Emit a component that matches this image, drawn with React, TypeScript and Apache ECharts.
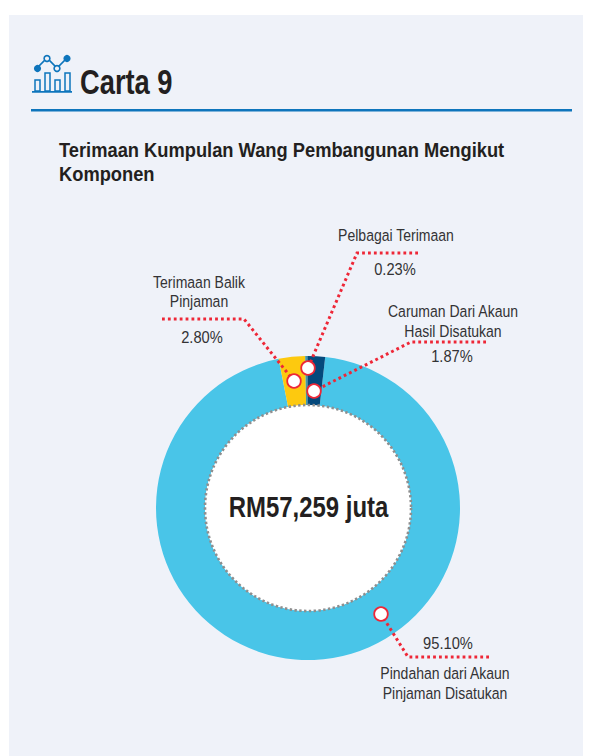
import React, { useEffect, useRef } from "react";
import * as echarts from "echarts";

const sliceNames = [
  "Pindahan dari Akaun Pinjaman Disatukan",
  "Terimaan Balik Pinjaman",
  "Pelbagai Terimaan",
  "Caruman Dari Akaun Hasil Disatukan",
];
const sliceValues = [95.1, 2.8, 0.23, 1.87];
const sliceColors = ["#49c5e8", "#fdc90f", "#3f9aa8", "#04497c"];
const centreText = "RM57,259 juta";
const chartTitle = "Carta 9";
const subTitle = ["Terimaan Kumpulan Wang Pembangunan Mengikut", "Komponen"];

const FONT = "'Liberation Sans', sans-serif";
const RED = "#ee2737";
const TXT = "#333335";
const PANEL = "#eff2f9";
const CX = 308;
const CY = 508;

function leader(points: number[][]) {
  return {
    type: "polyline",
    silent: true,
    shape: { points },
    style: { stroke: RED, lineWidth: 3, lineDash: [2.8, 3.1], fill: "none" },
    z: 10,
  };
}
function dot(x: number, y: number) {
  return {
    type: "circle",
    silent: true,
    shape: { cx: x, cy: y, r: 6.8 },
    style: { fill: "#ffffff", stroke: RED, lineWidth: 1.8 },
    z: 11,
  };
}
function label(text: string, x: number, y: number, sx = 0.85) {
  return {
    type: "text",
    silent: true,
    x,
    y,
    scaleX: sx,
    style: {
      text,
      fill: TXT,
      font: `16.5px ${FONT}`,
      align: "center",
      verticalAlign: "middle",
    },
    z: 12,
  };
}
function bold(text: string, x: number, y: number, size: number, sx: number, align = "left") {
  return {
    type: "text",
    silent: true,
    x,
    y,
    scaleX: sx,
    style: {
      text,
      fill: "#231f20",
      font: `bold ${size}px ${FONT}`,
      align,
      verticalAlign: "middle",
    },
    z: 12,
  };
}

const BLUE = "#0e75bc";
const iconParts = [
  { type: "polyline", shape: { points: [[37, 68], [47, 58], [57, 68], [67, 58]] }, style: { stroke: BLUE, lineWidth: 1.7, fill: "none" } },
  { type: "circle", shape: { cx: 37.5, cy: 68.5, r: 3.6 }, style: { fill: BLUE } },
  { type: "circle", shape: { cx: 47, cy: 58.5, r: 2.9 }, style: { fill: PANEL, stroke: BLUE, lineWidth: 1.6 } },
  { type: "circle", shape: { cx: 57, cy: 68.5, r: 2.9 }, style: { fill: PANEL, stroke: BLUE, lineWidth: 1.6 } },
  { type: "circle", shape: { cx: 67, cy: 58.5, r: 3.6 }, style: { fill: BLUE } },
  { type: "rect", shape: { x: 32, y: 91, width: 40, height: 1.8 }, style: { fill: BLUE } },
  ...[[35, 80], [45, 73], [55, 80], [65, 73]].map(([x, y]) => ({
    type: "rect",
    shape: { x, y, width: 5, height: 91 - y },
    style: { fill: "none", stroke: BLUE, lineWidth: 1.5 },
  })),
];

export default function App() {
  const ref = useRef<HTMLDivElement>(null);
  useEffect(() => {
    document.body.style.margin = "0";
    const chart = echarts.init(ref.current!, undefined, { renderer: "svg" });
    chart.setOption({
      animation: false,
      backgroundColor: "#ffffff",
      series: [
        {
          type: "pie",
          center: [CX, CY],
          radius: [103, 152],
          startAngle: 83.5,
          clockwise: true,
          silent: true,
          label: { show: false },
          labelLine: { show: false },
          data: sliceValues.map((value, i) => ({
            name: sliceNames[i],
            value,
            itemStyle: { color: sliceColors[i] },
          })),
          z: 3,
        },
      ],
      graphic: [
        { type: "rect", shape: { x: 9, y: 15, width: 574, height: 741 }, style: { fill: PANEL }, z: -10, silent: true },
        ...iconParts.map((p) => ({ ...p, silent: true, z: 5 })),
        bold(chartTitle, 80, 82, 35, 0.78),
        { type: "rect", shape: { x: 31, y: 109, width: 541, height: 2.5 }, style: { fill: BLUE }, silent: true },
        bold(subTitle[0], 59, 150, 20.5, 0.893),
        bold(subTitle[1], 59, 174, 20.5, 0.893),
        {
          type: "circle",
          silent: true,
          shape: { cx: CX, cy: CY, r: 103 },
          style: { fill: "#ffffff", stroke: "#8f8f8f", lineWidth: 2.6, lineDash: [2.4, 2.4] },
          z: 8,
        },
        bold(centreText, CX + 0.5, 507, 29, 0.825, "center"),

        leader([[162, 319], [244, 319], [294, 381]]),
        dot(294, 381),
        label("Terimaan Balik", 199, 282),
        label("Pinjaman", 199, 301),
        label("2.80%", 202, 337, 0.89),

        leader([[418, 253], [357, 253], [308, 368]]),
        dot(308, 368),
        label("Pelbagai Terimaan", 396, 235),
        label("0.23%", 395, 269, 0.89),

        leader([[486, 342], [411, 342], [314, 391]]),
        dot(314, 391),
        label("Caruman Dari Akaun", 453, 311),
        label("Hasil Disatukan", 453, 331),
        label("1.87%", 452, 356, 0.89),

        leader([[489, 657], [408, 657], [381, 614]]),
        dot(381, 614),
        label("95.10%", 448, 643, 0.89),
        label("Pindahan dari Akaun", 445, 673),
        label("Pinjaman Disatukan", 445, 693),
      ],
    });
    return () => chart.dispose();
  }, []);
  return <div ref={ref} style={{ width: 593, height: 756 }} />;
}
